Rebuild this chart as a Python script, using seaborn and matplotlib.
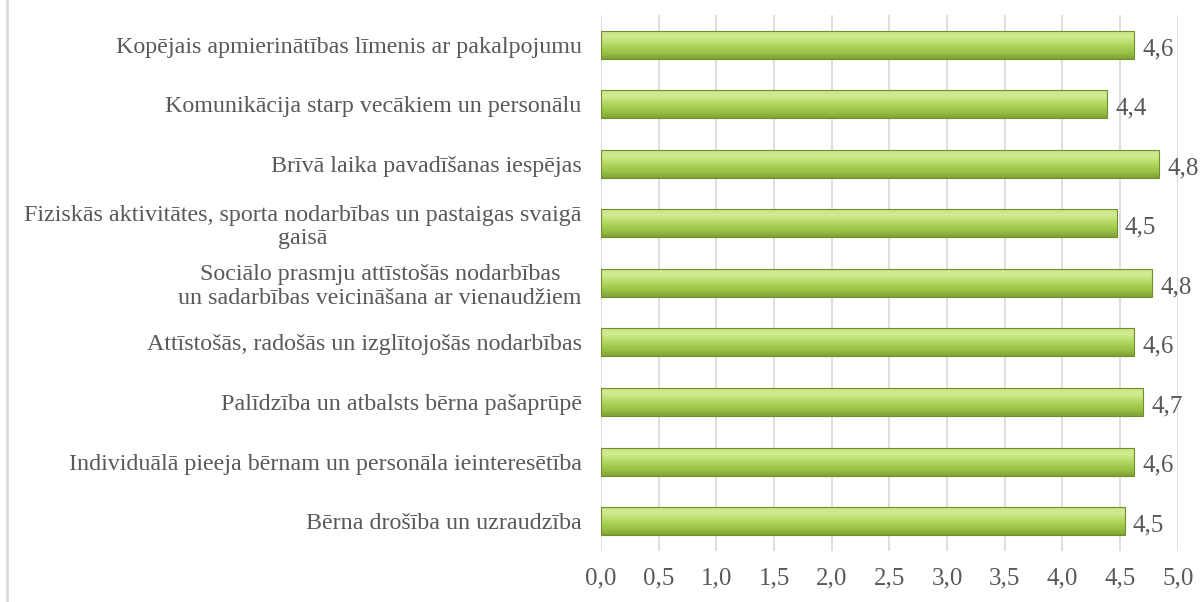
import numpy as np
import pandas as pd
import matplotlib
matplotlib.use("Agg")
import matplotlib.pyplot as plt
import seaborn as sns
from matplotlib.colors import LinearSegmentedColormap

# Data (top to bottom as in the chart)
categories = [
    "Kopējais apmierinātības līmenis ar pakalpojumu",
    "Komunikācija starp vecākiem un personālu",
    "Brīvā laika pavadīšanas iespējas",
    "Fiziskās aktivitātes, sporta nodarbības un pastaigas svaigā\ngaisā",
    "Sociālo prasmju attīstošās nodarbības\nun sadarbības veicināšana ar vienaudžiem",
    "Attīstošās, radošās un izglītojošās nodarbības",
    "Palīdzība un atbalsts bērna pašaprūpē",
    "Individuālā pieeja bērnam un personāla ieinteresētība",
    "Bērna drošība un uzraudzība",
]
values = [4.62, 4.39, 4.84, 4.47, 4.78, 4.62, 4.70, 4.62, 4.54]
value_labels = ["4,6", "4,4", "4,8", "4,5", "4,8", "4,6", "4,7", "4,6", "4,5"]
x_ticks = [0.0, 0.5, 1.0, 1.5, 2.0, 2.5, 3.0, 3.5, 4.0, 4.5, 5.0]

df = pd.DataFrame({"category": categories, "value": values})

sns.set_style("white")
plt.rcParams["font.family"] = ["Liberation Serif", "DejaVu Serif"]
text_color = "#595959"

fig = plt.figure(figsize=(12.03, 6.02), dpi=100)
ax = fig.add_axes([0.4996, 0.085, 0.4795, 0.89])

sns.barplot(data=df, x="value", y="category", orient="h", color="#a5cc4a",
            width=0.47, ax=ax, zorder=3)

# gradient fill on each bar
cmap = LinearSegmentedColormap.from_list(
    "grn", ["#c9e386", "#d2eb93", "#bcde70", "#a8cf54", "#97bf44", "#80a235"])
grad = np.linspace(0, 1, 64).reshape(-1, 1)
for p in ax.patches:
    x0, y0 = p.get_x(), p.get_y()
    w, h = p.get_width(), p.get_height()
    im = ax.imshow(grad, cmap=cmap, aspect="auto",
                   extent=[x0, x0 + w, y0 + h, y0], zorder=4)
    im.set_clip_path(p)
    p.set_edgecolor("#6f8f2a")
    p.set_linewidth(0.8)
    p.set_zorder(5)
    p.set_facecolor("none")

for i, (v, lab) in enumerate(zip(values, value_labels)):
    ax.text(v + 0.07, i + 0.07, lab, va="center", ha="left",
            fontsize=18, color=text_color)

ax.set_xlim(0, 5.0)
ax.set_ylim(len(categories) - 0.5, -0.5)
ax.set_xticks(x_ticks)
ax.set_xticklabels([f"{t:.1f}".replace(".", ",") for t in x_ticks])
ax.xaxis.grid(True, color="#d9d9d9", linewidth=1.2, zorder=0)
ax.yaxis.grid(False)
for s in ax.spines.values():
    s.set_visible(False)
ax.tick_params(axis="x", length=0, pad=12, labelsize=18, labelcolor=text_color)
ax.tick_params(axis="y", length=0, pad=14, labelsize=17.3, labelcolor=text_color)
for t in ax.get_yticklabels():
    t.set_multialignment("center")
    t.set_linespacing(1.15)
ax.set_xlabel("")
ax.set_ylabel("")

# chart border line on the left
fig.add_artist(plt.Line2D([0.006, 0.006], [0, 1], color="#d9d9d9",
                          linewidth=2, transform=fig.transFigure))

fig.savefig("out.png", dpi=100)
